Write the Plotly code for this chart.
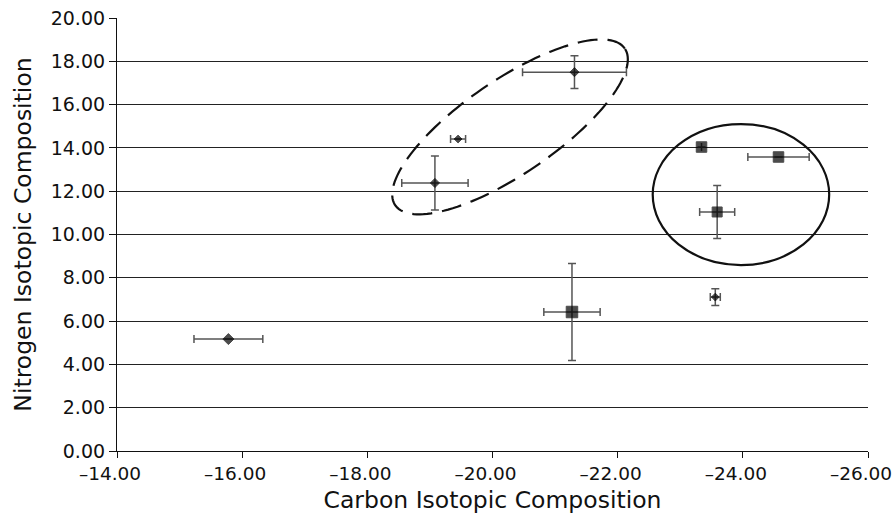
import numpy as np
import plotly.graph_objects as go

# Diamond series
dia_x = [-15.78, -19.08, -19.45, -21.31, -23.56]
dia_y = [5.17, 12.38, 14.41, 17.50, 7.11]
dia_xerr = [0.55, 0.53, 0.12, 0.83, 0.08]
dia_yerr = [0.0, 1.25, 0.0, 0.76, 0.39]

# Square series
sq_x = [-21.27, -23.34, -24.57, -23.59]
sq_y = [6.42, 14.04, 13.58, 11.04]
sq_xerr = [0.45, 0.0, 0.49, 0.28]
sq_yerr = [2.24, 0.0, 0.0, 1.22]

x_ticks = [-14, -16, -18, -20, -22, -24, -26]
x_labels = ["–14.00", "–16.00", "–18.00", "–20.00", "–22.00", "–24.00", "–26.00"]
y_ticks = [0, 2, 4, 6, 8, 10, 12, 14, 16, 18, 20]

PX_X = 62.6   # px per x unit (approx, for shape aspect)
PX_Y = 21.65  # px per y unit

def ellipse_path(cx, cy, a_px, b_px, ang_deg, n=140):
    t = np.linspace(0, 2 * np.pi, n)
    th = np.radians(ang_deg)
    px = a_px * np.cos(t) * np.cos(th) - b_px * np.sin(t) * np.sin(th)
    py = a_px * np.cos(t) * np.sin(th) + b_px * np.sin(t) * np.cos(th)
    xs = cx - px / PX_X  # x axis reversed
    ys = cy + py / PX_Y
    return "M " + " L ".join(f"{x:.4f},{y:.4f}" for x, y in zip(xs, ys)) + " Z"

fig = go.Figure()
err_style = dict(color="#555555", thickness=1.5, width=4)

fig.add_trace(go.Scatter(
    x=dia_x, y=dia_y, mode="markers",
    marker=dict(symbol="diamond", size=[8.5, 7, 6, 7, 6], color="#000000",
                line=dict(width=1, color="#000000")),
    error_x=dict(type="data", array=dia_xerr, visible=True, **err_style),
    error_y=dict(type="data", array=dia_yerr, visible=True, **err_style),
    showlegend=False,
))
fig.add_trace(go.Scatter(
    x=sq_x, y=sq_y, mode="markers",
    marker=dict(symbol="square", size=[11.5, 10.5, 10.5, 10], color="#000000",
                line=dict(width=1, color="#000000")),
    error_x=dict(type="data", array=sq_xerr, visible=True, **err_style),
    error_y=dict(type="data", array=sq_yerr, visible=True, **err_style),
    showlegend=False,
))

fig.add_shape(type="path", path=ellipse_path(-20.28, 14.97, 139, 47, 34.3),
              line=dict(color="#111111", width=2.2, dash="20px,10px"), layer="above")
fig.add_shape(type="circle", xref="x", yref="y", x0=-22.56, x1=-25.38, y0=8.59, y1=15.1,
              line=dict(color="#111111", width=2.2), layer="above")

font_family = "DejaVu Sans, Liberation Sans, Arial, sans-serif"
fig.update_layout(
    width=895, height=518,
    margin=dict(l=117, r=27, t=18, b=67, autoexpand=False),
    paper_bgcolor="white", plot_bgcolor="white",
    font=dict(family=font_family, color="#111111", size=19),
    xaxis=dict(
        range=[-14, -26], tickvals=x_ticks, ticktext=x_labels,
        showgrid=False, zeroline=False, automargin=False,
        showline=True, linecolor="#111111", linewidth=1.2,
        ticks="outside", ticklen=6, tickcolor="#111111",
        tickfont=dict(size=18.5), ticklabelshift=7, ticklabeloverflow="allow",
        title=dict(text="Carbon Isotopic Composition", font=dict(size=23.5), standoff=8),
    ),
    yaxis=dict(
        range=[0, 20], tickvals=y_ticks, tickformat=".2f",
        showgrid=True, gridcolor="#222222", gridwidth=1,
        zeroline=False, automargin=False,
        showline=True, linecolor="#111111", linewidth=1.2,
        ticks="outside", ticklen=7, tickcolor="#111111",
        tickfont=dict(size=19), ticklabeloverflow="allow",
        title=dict(text="Nitrogen Isotopic Composition", font=dict(size=23.5), standoff=12),
    ),
)

fig.write_html("out.html", config={"displayModeBar": False},
               post_script="document.body.style.margin='0';")
